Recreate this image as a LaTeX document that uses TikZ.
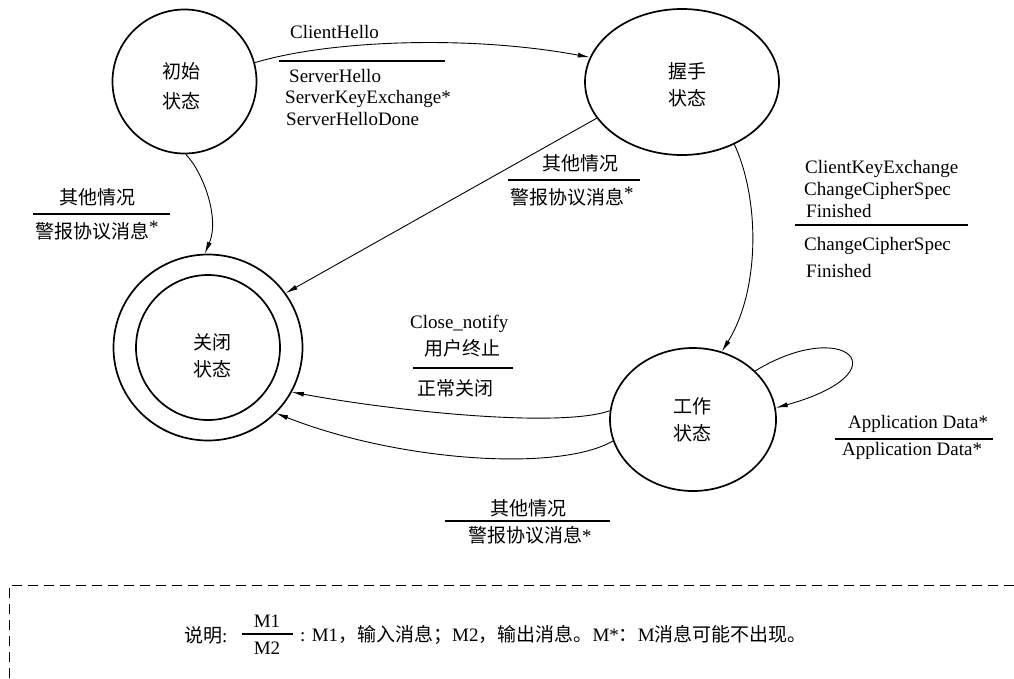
\documentclass[tikz,border=0pt]{standalone}
\usepackage{fontspec}
\setmainfont{Liberation Serif}
\newfontfamily\cjk{Noto Sans CJK SC}
\usetikzlibrary{shapes.geometric,arrows.meta}
\newcommand{\supstar}{{\rmfamily\raisebox{5pt}{*}}}
\begin{document}
\begin{tikzpicture}[x=1pt,y=-1pt,
  state/.style={ellipse,draw,line width=1.7pt,inner sep=0pt},
  conn/.style={line width=0.9pt,-{Latex[length=12pt,width=5pt]}},
  lbl/.style={inner sep=0pt,font=\fontsize{19}{23}\selectfont},
  clbl/.style={inner sep=0pt,font=\cjk\fontsize{19}{23}\selectfont},
  stxt/.style={inner sep=0pt,align=center,font=\cjk\fontsize{19}{27}\selectfont},
  sep/.style={line width=1.1pt}]
\useasboundingbox (0,0) rectangle (1014,678);

% states
\node[state,minimum width=144pt,minimum height=144pt] (init) at (184.5,81.5) {};
\node[stxt,font=\cjk\fontsize{19}{30}\selectfont] (inittxt) at (181,86) {初始\\状态};
\node[state,minimum width=194pt,minimum height=146pt] (hs) at (682,82) {};
\node[stxt] (hstxt) at (687,85) {握手\\状态};
\node[state,minimum width=189pt,minimum height=186pt] (closed) at (208,347.5) {};
\node[state,minimum width=144pt,minimum height=145pt] (closedin) at (208,347.5) {};
\node[stxt] (closedtxt) at (212,356) {关闭\\状态};
\node[state,minimum width=166pt,minimum height=143pt] (work) at (693,419.5) {};
\node[stxt] (worktxt) at (692,420) {工作\\状态};

% connectors
\draw[conn] (init.15) .. controls (330,40) and (470,35) .. (hs.165);
\draw[conn] (init.-89) .. controls (203,172) and (220,218) .. (closed.92);
\draw[conn] (hs.203.5) -- (closed.35);
\draw[conn] (hs.-50) .. controls (760,200) and (760,290) .. (work.67);
\draw[conn] (work.38.6) .. controls (845,316) and (905,372) .. (work.8.6);
\draw[conn] (work.174) .. controls (560,428) and (400,412) .. (closed.-28.7);
\draw[conn] (work.195) .. controls (560,472) and (400,462) .. (closed.-44);

% label: ClientHello
\node[lbl,anchor=base west] (l1a) at (290,38) {ClientHello};
\draw[sep] (279,61) -- (445,61);
\node[lbl,anchor=base west] (l1b) at (289,82) {ServerHello};
\node[lbl,anchor=base west] (l1c) at (285,103.5) {ServerKeyExchange*};
\node[lbl,anchor=base west] (l1d) at (286,125) {ServerHelloDone};

% label: init -> closed
\node[clbl] (l2a) at (97,197) {其他情况};
\draw[sep] (33,214) -- (170,214);
\node[clbl,anchor=west] (l2b) at (35,231) {警报协议消息\supstar};

% label: handshake -> closed
\node[clbl] (l3a) at (580,163) {其他情况};
\draw[sep] (508,180) -- (640,180);
\node[clbl,anchor=west] (l3b) at (510,197) {警报协议消息\supstar};

% label: handshake -> work
\node[lbl,anchor=base west] (l4a) at (805,173) {ClientKeyExchange};
\node[lbl,anchor=base west] (l4b) at (804,195) {ChangeCipherSpec};
\node[lbl,anchor=base west] (l4c) at (806,217) {Finished};
\draw[sep] (795,225) -- (968,225);
\node[lbl,anchor=base west] (l4d) at (804,250) {ChangeCipherSpec};
\node[lbl,anchor=base west] (l4e) at (806,277) {Finished};

% label: self loop
\node[lbl,anchor=base west] (l5a) at (848,428) {Application Data*};
\draw[sep] (835,439) -- (993,439);
\node[lbl,anchor=base west] (l5b) at (842,455) {Application Data*};

% label: work -> closed (upper)
\node[lbl,anchor=base west] (l6a) at (410,328) {Close\_notify};
\node[clbl] (l6b) at (462,348) {用户终止};
\draw[sep] (413,368) -- (513,368);
\node[clbl,anchor=west] (l6c) at (417,388) {正常关闭};

% label: work -> closed (lower)
\node[clbl] (l7a) at (528,508) {其他情况};
\draw[sep] (445,521) -- (610,521);
\node[clbl,anchor=west] (l7b) at (468,535) {警报协议消息{\rmfamily *}};

% legend
\draw[line width=1pt,dash pattern=on 10pt off 6pt] (9,678) -- (9,585) -- (1014,585);
\node[clbl,anchor=west] (lg1) at (184,635) {说明\rmfamily :};
\node[lbl] (lgm1) at (267,621) {M1};
\draw[sep] (242,634) -- (293,634);
\node[lbl] (lgm2) at (267,648) {M2};
\node[lbl,anchor=west] (lg2) at (300,635) {: M1{\cjk ，输入消息；}M2{\cjk ，输出消息。}M*{\cjk ：}M{\cjk 消息可能不出现。}};
\end{tikzpicture}
\end{document}
